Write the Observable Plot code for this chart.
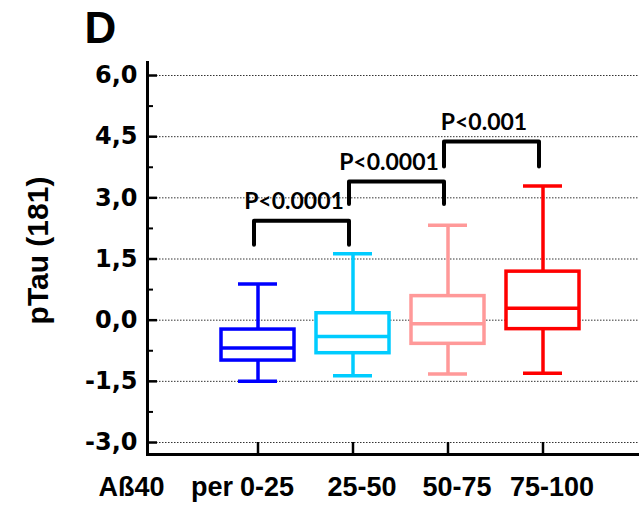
<!DOCTYPE html>
<html>
<head>
<meta charset="utf-8">
<script src="https://cdn.jsdelivr.net/npm/d3@7"></script>
<script src="https://cdn.jsdelivr.net/npm/@observablehq/plot@0.6"></script>
<style>
  body { margin: 0; background: #fff; }
  #chart svg { display: block; }
</style>
</head>
<body>
<div id="chart"></div>
<script>
// ---- data ----
const groups = ["0-25", "25-50", "50-75", "75-100"];
const colors = ["#0000ff", "#00ccff", "#ff9999", "#ff0000"];
const whiskerLow = [-1.50, -1.36, -1.32, -1.30];
const q1 = [-0.99, -0.81, -0.58, -0.22];
const median = [-0.68, -0.40, -0.09, 0.29];
const q3 = [-0.23, 0.17, 0.59, 1.19];
const whiskerHigh = [0.89, 1.63, 2.33, 3.29];

const bracketFrom = [0, 1, 2];
const bracketTop = [2.44, 3.40, 4.38];
const bracketLeg = [1.85, 2.85, 3.77];
const bracketLabels = ["P<0.0001", "P<0.0001", "P<0.001"];

const yTicks = [-3, -1.5, 0, 1.5, 3, 4.5, 6];
const yTickLabels = ["-3,0", "-1,5", "0,0", "1,5", "3,0", "4,5", "6,0"];
const yMinorTicks = [-2.25, -0.75, 0.75, 2.25, 3.75, 5.25];
const yDomain = [-3.294, 6.319];

const panelLetter = "D";
const yTitle = "pTau (181)";
const xPrefix = "Aß40";
const xPer = "per";

// ---- tables built from the arrays ----
const stats = groups.map((g, i) => ({
  group: g, color: colors[i], lo: whiskerLow[i], q1: q1[i],
  med: median[i], q3: q3[i], hi: whiskerHigh[i]
}));
const bracketPts = bracketFrom.flatMap((f, k) => [
  {k, x: groups[f], y: bracketLeg[k]},
  {k, x: groups[f], y: bracketTop[k]},
  {k, x: groups[f + 1], y: bracketTop[k]},
  {k, x: groups[f + 1], y: bracketLeg[k]}
]);
const bracketText = bracketFrom.map((f, k) => ({x: groups[f], y: bracketTop[k], label: bracketLabels[k]}));

const boxW = 3.5;
const boldArial = {fontFamily: "Liberation Sans, Arial, sans-serif", fontWeight: "bold"};
const noText = () => "";

const chart = Plot.plot({
  width: 639,
  height: 505,
  marginLeft: 147,
  marginRight: 0,
  marginTop: 62,
  marginBottom: 51,
  style: {background: "white", color: "black", fontFamily: "Liberation Sans, Arial, sans-serif"},
  x: {domain: groups, range: [209, 591], paddingInner: 0.236, paddingOuter: 0.118, align: 0.5, axis: null},
  y: {domain: yDomain, axis: null},
  color: {type: "identity"},
  marks: [
    Plot.gridY(yTicks, {stroke: "#333", strokeOpacity: 1, strokeWidth: 1, strokeDasharray: "1.5,1.5"}),
    // whiskers
    Plot.ruleX(stats, {x: "group", y1: "q3", y2: "hi", stroke: "color", strokeWidth: boxW}),
    Plot.ruleX(stats, {x: "group", y1: "lo", y2: "q1", stroke: "color", strokeWidth: boxW}),
    Plot.tickY(stats, {x: "group", y: "hi", stroke: "color", strokeWidth: boxW, insetLeft: 17, insetRight: 17}),
    Plot.tickY(stats, {x: "group", y: "lo", stroke: "color", strokeWidth: boxW, insetLeft: 17, insetRight: 17}),
    // boxes
    Plot.barY(stats, {x: "group", y1: "q1", y2: "q3", fill: "white", stroke: "color", strokeWidth: boxW}),
    Plot.tickY(stats, {x: "group", y: "med", stroke: "color", strokeWidth: boxW}),
    // significance brackets
    Plot.line(bracketPts, {x: "x", y: "y", z: "k", stroke: "black", strokeWidth: 4, strokeLinejoin: "round", dx: -4}),
    Plot.text(bracketText, {x: "x", y: "y", text: "label", dx: 36, dy: -12, lineAnchor: "bottom",
      fontSize: 23, fontFamily: "Lato, 'Open Sans', sans-serif", fontWeight: "bold", fill: "black"}),
    // axes frame
    Plot.frame({anchor: "left", strokeWidth: 3}),
    Plot.frame({anchor: "bottom", strokeWidth: 3}),
    Plot.axisY({ticks: yTicks, tickSize: -10, tickFormat: noText, strokeWidth: 2.5, label: null}),
    Plot.axisY({ticks: yMinorTicks, tickSize: -6, tickFormat: noText, strokeWidth: 2, label: null}),
    Plot.axisY({ticks: yTicks, tickSize: 0, tickPadding: 10, label: null,
      tickFormat: d => yTickLabels[yTicks.indexOf(d)],
      fontSize: 24, fontFamily: "DejaVu Sans, sans-serif", fontWeight: "bold"}),
    Plot.axisX({tickSize: -12, tickFormat: noText, strokeWidth: 2.5, label: null}),
    Plot.axisX({tickSize: 0, tickPadding: 22, dx: 9, label: null, fontSize: 27, ...boldArial}),
    // extra texts
    Plot.text([xPer], {x: [groups[0]], frameAnchor: "bottom", dx: -25, dy: 41, textAnchor: "end", lineAnchor: "bottom", fontSize: 27, ...boldArial}),
    Plot.text([xPrefix], {frameAnchor: "bottom-left", dx: -49, dy: 41, textAnchor: "start", lineAnchor: "bottom", fontSize: 27, ...boldArial}),
    Plot.text([panelLetter], {frameAnchor: "top-left", dx: -63, dy: -20, textAnchor: "start", lineAnchor: "bottom", fontSize: 44, ...boldArial}),
    Plot.text([yTitle], {frameAnchor: "left", dx: -100, dy: -8, rotate: -90, textAnchor: "middle", lineAnchor: "bottom", fontSize: 30, ...boldArial})
  ]
});
document.getElementById("chart").appendChild(chart);
</script>
</body>
</html>
